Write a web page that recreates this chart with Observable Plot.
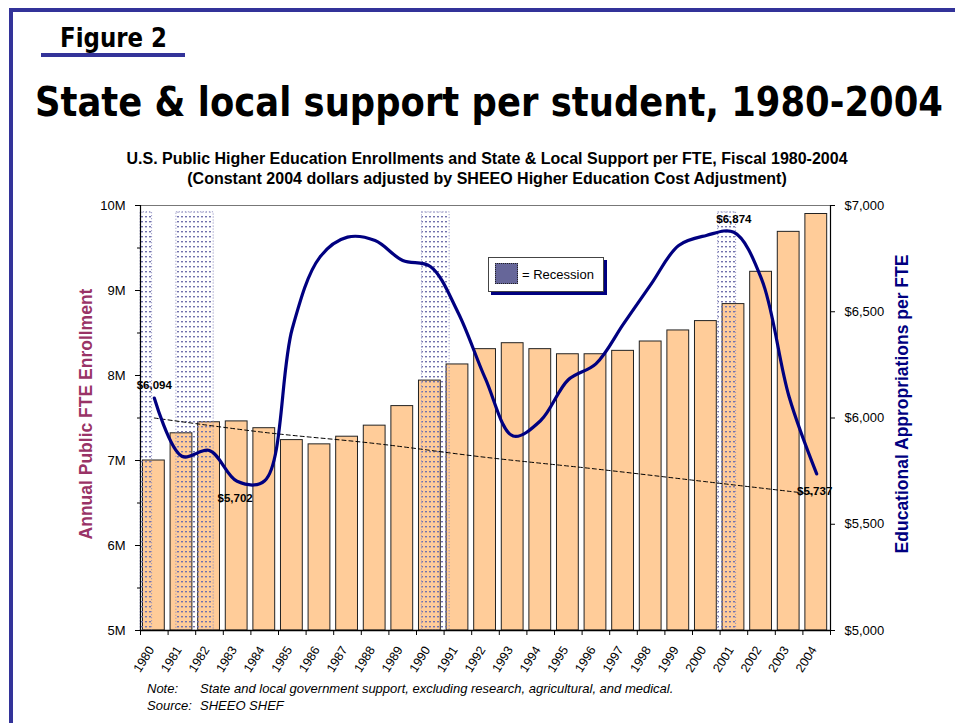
<!DOCTYPE html>
<html>
<head>
<meta charset="utf-8">
<script src="https://cdn.jsdelivr.net/npm/d3@7"></script>
<script src="https://cdn.jsdelivr.net/npm/@observablehq/plot@0.6"></script>
<style>
  html, body { margin: 0; padding: 0; background: #fff; }
  body { width: 955px; height: 723px; position: relative; overflow: hidden; font-family: "Liberation Sans", Arial, sans-serif; }
  #chart { position: absolute; left: 0; top: 0; }
  .abs { position: absolute; white-space: nowrap; line-height: 1; }
  .fit { display: inline-block; transform-origin: 0 0; }
  #frameBorder { position: absolute; left: 9px; top: 8px; width: 960px; height: 730px; border-left: 4px solid #333399; border-top: 4px solid #333399; }
</style>
</head>
<body>
<div id="chart"></div>
<div id="frameBorder"></div>
<div class="abs fit" id="fig" style="left:60px; top:25px; font-family:'DejaVu Sans',sans-serif; font-weight:bold; font-size:26px;">Figure 2</div>
<div class="abs" style="left:41px; top:53px; width:144px; height:4px; background:#333399;"></div>
<div class="abs fit" id="title" style="left:35px; top:82px; font-family:'DejaVu Sans',sans-serif; font-weight:bold; font-size:41px;">State &amp; local support per student, 1980-2004</div>
<div class="abs" style="left:0; width:974px; top:151px; text-align:center; font-weight:bold; font-size:16px;">U.S. Public Higher Education Enrollments and State &amp; Local Support per FTE, Fiscal 1980-2004</div>
<div class="abs" style="left:0; width:974px; top:171px; text-align:center; font-weight:bold; font-size:16px;">(Constant 2004 dollars adjusted by SHEEO Higher Education Cost Adjustment)</div>
<div class="abs" style="left:488px; top:257px; width:114px; height:33px; background:#fff; border:1px solid #444; box-shadow:3px 3px 0 #000080;"></div>
<div class="abs" style="left:495px; top:263px; width:21px; height:19px; background:#666699; border:1px dotted #222;"></div>
<div class="abs" style="left:522px; top:268px; font-size:13px;">= Recession</div>
<div class="abs" style="left:147px; top:682px; font-size:13px; font-style:italic;">Note:</div>
<div class="abs" style="left:200px; top:682px; font-size:13px; font-style:italic;">State and local government support, excluding research, agricultural, and medical.</div>
<div class="abs" style="left:147px; top:699px; font-size:13px; font-style:italic;">Source:</div>
<div class="abs" style="left:200px; top:699px; font-size:13px; font-style:italic;">SHEEO SHEF</div>
<script>
// ---- data ----
const years = [1980,1981,1982,1983,1984,1985,1986,1987,1988,1989,1990,1991,1992,1993,1994,1995,1996,1997,1998,1999,2000,2001,2002,2003,2004];
// Annual public FTE enrollment (millions)
const enrollment = [7.00,7.32,7.45,7.46,7.38,7.24,7.19,7.28,7.41,7.64,7.94,8.13,8.31,8.38,8.31,8.25,8.25,8.29,8.40,8.53,8.64,8.84,9.22,9.69,9.90];
// Educational appropriations per FTE (constant 2004 $)
const appropriations = [6094,5820,5847,5702,5705,6421,6757,6851,6835,6741,6713,6498,6184,5915,5988,6180,6255,6443,6630,6812,6859,6874,6655,6100,5737];
// Dashed trend line (constant $)
const trendYears = [1980,1984,1988,1992,1996,2000,2004];
const trendValues = [6000,5932,5880,5815,5760,5700,5640];
// Recessions (fractional fiscal years)
const recessionStart = [1980.0, 1981.3, 1990.2, 2000.93];
const recessionEnd = [1980.42, 1982.65, 1991.2, 2001.58];
// Labeled points
const labelAboveYears = [1980, 2001];
const labelBelowYears = [1983, 2004];
// Tick labels
const enrollTicks = [5,6,7,8,9,10];
const enrollMinorTicks = [5.5,6.5,7.5,8.5,9.5];
const dollarTicks = [5000,5500,6000,6500,7000];

// ---- derived tables ----
const toY = d => 5 + (d - 5000) / 400;      // $ -> enrollment scale (5M..10M <-> $5,000..$7,000)
const fromY = v => (v - 5) * 400 + 5000;
const fmt$ = d3.format("$,");
const table = years.map((y, i) => ({year: y, enr: enrollment[i], app: appropriations[i]}));
const trend = trendYears.map((y, i) => ({year: y, v: trendValues[i]}));
const recessions = recessionStart.map((s, i) => ({s, e: recessionEnd[i]}));
const above = table.filter(d => labelAboveYears.includes(d.year));
const below = table.filter(d => labelBelowYears.includes(d.year));
const ctr = d => d.year + 0.5;

const chart = Plot.plot({
  width: 955,
  height: 723,
  marginTop: 205,
  marginBottom: 93,
  marginLeft: 140,
  marginRight: 125,
  x: {type: "linear", domain: [1980, 2005]},
  y: {domain: [5, 10]},
  style: {fontFamily: "'Liberation Sans', Arial, sans-serif", fontSize: "13px", background: "transparent", color: "#000", overflow: "visible"},
  marks: [
    Plot.rect(table, {x1: d => d.year + 0.09, x2: d => d.year + 0.88, y1: 5, y2: "enr", fill: "#ffcc99", stroke: "#222", strokeWidth: 1}),
    Plot.rect(recessions, {x1: "s", x2: "e", y1: 5, y2: 9.92, fill: "url(#dots)", stroke: "#8a8abf", strokeWidth: 1, strokeDasharray: "1,2"}),
    Plot.line(trend, {x: ctr, y: d => toY(d.v), stroke: "#000", strokeWidth: 1, strokeDasharray: "4,3", curve: "catmull-rom"}),
    Plot.line(table, {x: ctr, y: d => toY(d.app), stroke: "#000080", strokeWidth: 3.2, curve: "catmull-rom"}),
    Plot.text(above, {x: ctr, y: d => toY(d.app), text: d => fmt$(d.app), dy: -13, fontWeight: "bold", fontSize: 11.5}),
    Plot.text(below, {x: ctr, y: d => toY(d.app), text: d => fmt$(d.app), dy: 17, dx: -2, fontWeight: "bold", fontSize: 11.5}),
    // frame lines
    Plot.ruleY([10], {stroke: "#777", strokeWidth: 1.2}),
    Plot.ruleX([1980, 2005], {stroke: "#000", strokeWidth: 1.2}),
    Plot.ruleY([5], {stroke: "#000", strokeWidth: 1.5}),
    // left axis
    Plot.axisY({anchor: "left", ticks: enrollTicks, tickFormat: d => d + "M", tickSize: 5, tickPadding: 10, label: null}),
    Plot.axisY({anchor: "left", ticks: enrollMinorTicks, tickSize: 3, fill: "none", label: null}),
    // right axis
    Plot.axisY({anchor: "right", ticks: dollarTicks.map(toY), tickFormat: d => fmt$(Math.round(fromY(d))), tickSize: 4, tickPadding: 10, label: null}),
    // x axis
    Plot.axisX({ticks: years.concat([2005]), tickSize: 5, fill: "none", label: null}),
    Plot.axisX({ticks: years.map(y => y + 0.5), tickFormat: d => String(Math.round(d - 0.5)), tickSize: 0, tickPadding: 17, dx: -3, tickRotate: -58, fontSize: 12.5, label: null}),
    // axis titles
    Plot.text(["Annual Public FTE Enrollment"], {frameAnchor: "left", textAnchor: "middle", dx: -54, dy: -4, rotate: -90, fill: "#993366", fontWeight: "bold", fontSize: 17.5}),
    Plot.text(["Educational Appropriations per FTE"], {frameAnchor: "right", textAnchor: "middle", dx: 72, dy: -14, rotate: -90, fill: "#000080", fontWeight: "bold", fontSize: 17.5})
  ]
});

// dotted recession pattern
const ns = "http://www.w3.org/2000/svg";
const defs = document.createElementNS(ns, "defs");
defs.innerHTML = '<pattern id="dots" width="4" height="5" patternUnits="userSpaceOnUse"><rect x="1" y="1" width="2" height="1.4" fill="#7272ad"/></pattern>';
chart.insertBefore(defs, chart.firstChild);
document.getElementById("chart").appendChild(chart);

// fit wide headline text to the reference widths
function fit(id, w) {
  const el = document.getElementById(id);
  const r = el.getBoundingClientRect().width;
  el.style.transform = "scaleX(" + (w / r) + ")";
}
fit("title", 908);
fit("fig", 107);
</script>
</body>
</html>
